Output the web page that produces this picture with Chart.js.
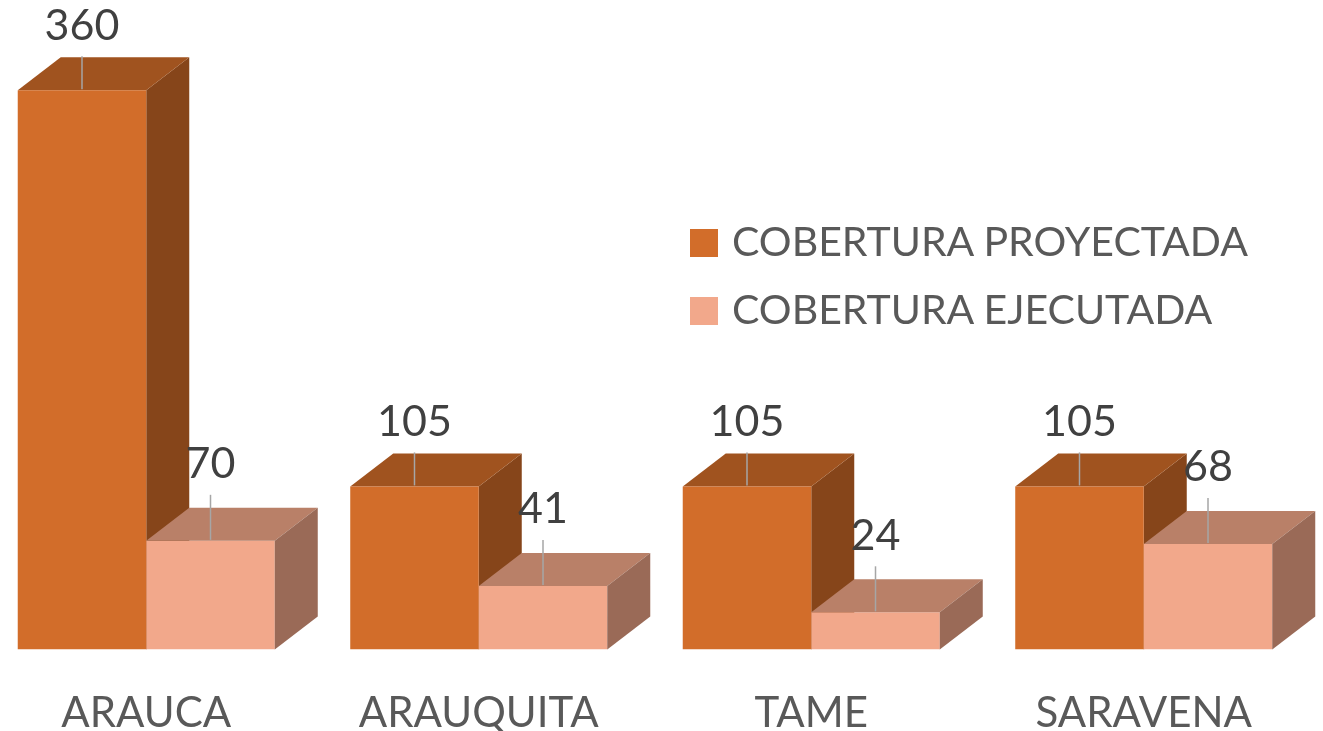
<!DOCTYPE html>
<html>
<head>
<meta charset="utf-8">
<script src="https://cdn.jsdelivr.net/npm/chart.js@4.4.1/dist/chart.umd.min.js"></script>
<style>
  html, body { margin: 0; padding: 0; background: #ffffff; overflow: hidden; width: 1323px; height: 731px; }
  #wrap { position: absolute; left: -20px; top: 0; width: 1345px; height: 778px; }
  .leg { position: absolute; left: 690px; font-family: Lato, "Open Sans", sans-serif; font-size: 41px; color: #595959; line-height: 42px; white-space: nowrap; }
  .leg .sw { position: absolute; left: 0; width: 28px; height: 28px; }
  .leg .tx { position: absolute; left: 42px; top: 0; }
</style>
</head>
<body>
<div id="wrap"><canvas id="c"></canvas></div>
<div class="leg" id="leg0" style="top:220px;"><div class="sw" style="top:9px;"></div><span class="tx"></span></div>
<div class="leg" id="leg1" style="top:288px;"><div class="sw" style="top:9px;"></div><span class="tx"></span></div>
<script>
const categories = ["ARAUCA", "ARAUQUITA", "TAME", "SARAVENA"];
const seriesNames = ["COBERTURA PROYECTADA", "COBERTURA EJECUTADA"];
const proyectada = [360, 105, 105, 105];
const ejecutada = [70, 41, 24, 68];

const frontColors = ["#D26D2A", "#F2A88B"];
const topColors = ["#A0531F", "#B98068"];
const sideColors = ["#86451A", "#9A6A57"];
const DX = 43, DY = 33;
const labelGap = [66, 78];

// HTML legend
[0, 1].forEach(i => {
  const el = document.getElementById('leg' + i);
  el.querySelector('.sw').style.background = frontColors[i];
  el.querySelector('.tx').textContent = seriesNames[i];
});

function topFace(ctx, b, color) {
  const l = b.x - b.width / 2, r = b.x + b.width / 2, t = b.y;
  ctx.fillStyle = color;
  ctx.beginPath();
  ctx.moveTo(l, t); ctx.lineTo(l + DX, t - DY); ctx.lineTo(r + DX, t - DY); ctx.lineTo(r, t);
  ctx.closePath(); ctx.fill();
}
function sideFace(ctx, b, color) {
  const r = b.x + b.width / 2, t = b.y, base = b.base;
  ctx.fillStyle = color;
  ctx.beginPath();
  ctx.moveTo(r, t); ctx.lineTo(r + DX, t - DY); ctx.lineTo(r + DX, base - DY); ctx.lineTo(r, base);
  ctx.closePath(); ctx.fill();
}

const cube = {
  id: 'cube',
  beforeDatasetsDraw(chart) {
    const ctx = chart.ctx;
    const meta = chart.getDatasetMeta(0);
    ctx.save();
    meta.data.forEach(b => { sideFace(ctx, b, sideColors[0]); topFace(ctx, b, topColors[0]); });
    ctx.restore();
  },
  afterDatasetsDraw(chart) {
    const ctx = chart.ctx;
    const meta = chart.getDatasetMeta(1);
    ctx.save();
    meta.data.forEach(b => { topFace(ctx, b, topColors[1]); sideFace(ctx, b, sideColors[1]); });
    ctx.restore();
  },
  afterDraw(chart) {
    const ctx = chart.ctx;
    ctx.save();
    ctx.font = '43px Lato, "Open Sans", sans-serif';
    ctx.textAlign = 'center';
    ctx.textBaseline = 'alphabetic';
    chart.data.datasets.forEach((ds, di) => {
      const meta = chart.getDatasetMeta(di);
      meta.data.forEach((b, i) => {
        const cy = b.y - labelGap[di];
        ctx.strokeStyle = '#A6A6A6';
        ctx.lineWidth = 1.5;
        ctx.beginPath();
        ctx.moveTo(b.x, b.y - 1);
        ctx.lineTo(b.x, cy + 32);
        ctx.stroke();
        ctx.fillStyle = '#404040';
        ctx.fillText(String(ds.data[i]), b.x, cy + 15.5);
      });
    });
    ctx.restore();
  }
};

new Chart(document.getElementById('c'), {
  type: 'bar',
  data: {
    labels: categories,
    datasets: [
      { label: seriesNames[0], data: proyectada, backgroundColor: frontColors[0], borderWidth: 0 },
      { label: seriesNames[1], data: ejecutada, backgroundColor: frontColors[1], borderWidth: 0 }
    ]
  },
  options: {
    responsive: true,
    maintainAspectRatio: false,
    animation: false,
    layout: { padding: { left: 0, right: 15, top: 28, bottom: 0 } },
    datasets: { bar: { categoryPercentage: 0.773, barPercentage: 1.0 } },
    plugins: { legend: { display: false }, tooltip: { enabled: false } },
    scales: {
      x: {
        grid: { display: false, drawTicks: false },
        border: { display: false },
        ticks: { color: '#595959', padding: 39, font: { family: 'Lato, "Open Sans", sans-serif', size: 42 } }
      },
      y: { display: false, min: 0, max: 400 }
    }
  },
  plugins: [cube]
});
</script>
</body>
</html>
